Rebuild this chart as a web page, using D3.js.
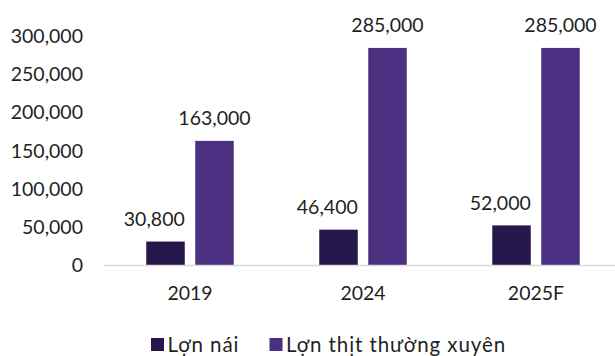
<!DOCTYPE html>
<html>
<head>
<meta charset="utf-8">
<script src="https://cdn.jsdelivr.net/npm/d3@7"></script>
<style>
  html, body { margin: 0; padding: 0; background: #ffffff; }
  svg { display: block; font-family: Lato, "Noto Sans", sans-serif; }
</style>
</head>
<body>
<svg id="chart" width="615" height="356"></svg>
<script>
// Pig herd sizes by year
const years = ["2019", "2024", "2025F"];
const seriesNames = ["Lợn nái", "Lợn thịt thường xuyên"];
const sows = [30800, 46400, 52000];
const fatteners = [163000, 285000, 285000];
const yTicks = [0, 50000, 100000, 150000, 200000, 250000, 300000];
const colors = ["#26184d", "#4b2f80"];

const FONT = "Lato, 'Noto Sans', sans-serif";
const TEXT = "#1f1f1f";
const svg = d3.select("#chart");
const fmt = d3.format(",");

const x = d3.scaleBand().domain(years).range([103.5, 622.5]).paddingInner(0).paddingOuter(0);
const sub = d3.scaleBand().domain([0, 1]).range([-43.75, 43.75]).paddingInner(0.214);
const y = d3.scaleLinear().domain([0, 300000]).range([265, 36.5]);

const rows = years.map((yr, i) => ({ year: yr, values: [sows[i], fatteners[i]] }));

// y-axis labels
const yAxis = d3.axisLeft(y).tickValues(yTicks).tickFormat(fmt).tickSize(0).tickPadding(0);
svg.append("g")
  .attr("transform", "translate(83,0)")
  .call(yAxis)
  .call(g => g.select(".domain").remove())
  .call(g => g.selectAll("text")
    .attr("fill", TEXT)
    .style("font-size", "19.5px")
    .style("font-family", FONT));

// bars
const groups = svg.append("g").selectAll("g")
  .data(rows).join("g")
  .attr("transform", d => `translate(${x(d.year) + x.bandwidth() / 2},0)`);

groups.selectAll("rect")
  .data(d => d.values.map((v, k) => ({ v, k })))
  .join("rect")
  .attr("x", d => sub(d.k))
  .attr("width", sub.bandwidth())
  .attr("y", d => y(d.v))
  .attr("height", d => y(0) - y(d.v))
  .attr("fill", d => colors[d.k]);

// value labels: sow labels end at the bar's right edge, the others are centred
groups.selectAll("text.val")
  .data(d => d.values.map((v, k) => ({ v, k })))
  .join("text")
  .attr("class", "val")
  .attr("x", d => d.k === 0 ? sub(d.k) + sub.bandwidth() : sub(d.k) + sub.bandwidth() / 2)
  .attr("y", d => y(d.v) - 15.5)
  .attr("text-anchor", d => d.k === 0 ? "end" : "middle")
  .attr("fill", TEXT)
  .style("font-size", "19.5px")
  .text(d => fmt(d.v));

// x-axis baseline and category labels
const xAxis = d3.axisBottom(x).tickSize(0);
svg.append("g")
  .attr("transform", `translate(0,${y(0)})`)
  .call(xAxis)
  .call(g => g.select(".domain").attr("stroke", "#d9d9d9").attr("stroke-width", 1.5))
  .call(g => g.selectAll("text")
    .attr("y", 34.5)
    .attr("dy", 0)
    .attr("fill", TEXT)
    .style("font-size", "19.5px")
    .style("font-family", FONT));

// legend
const legendX = [151, 269.5];
const legend = svg.append("g").selectAll("g")
  .data(seriesNames).join("g")
  .attr("transform", (d, i) => `translate(${legendX[i]},338)`);
legend.append("rect").attr("width", 13).attr("height", 13).attr("fill", (d, i) => colors[i]);
legend.append("text")
  .attr("x", 16.5).attr("y", 13.5)
  .attr("fill", TEXT)
  .style("font-size", "20.5px")
  .style("letter-spacing", "0.9px")
  .text(d => d);
</script>
</body>
</html>
